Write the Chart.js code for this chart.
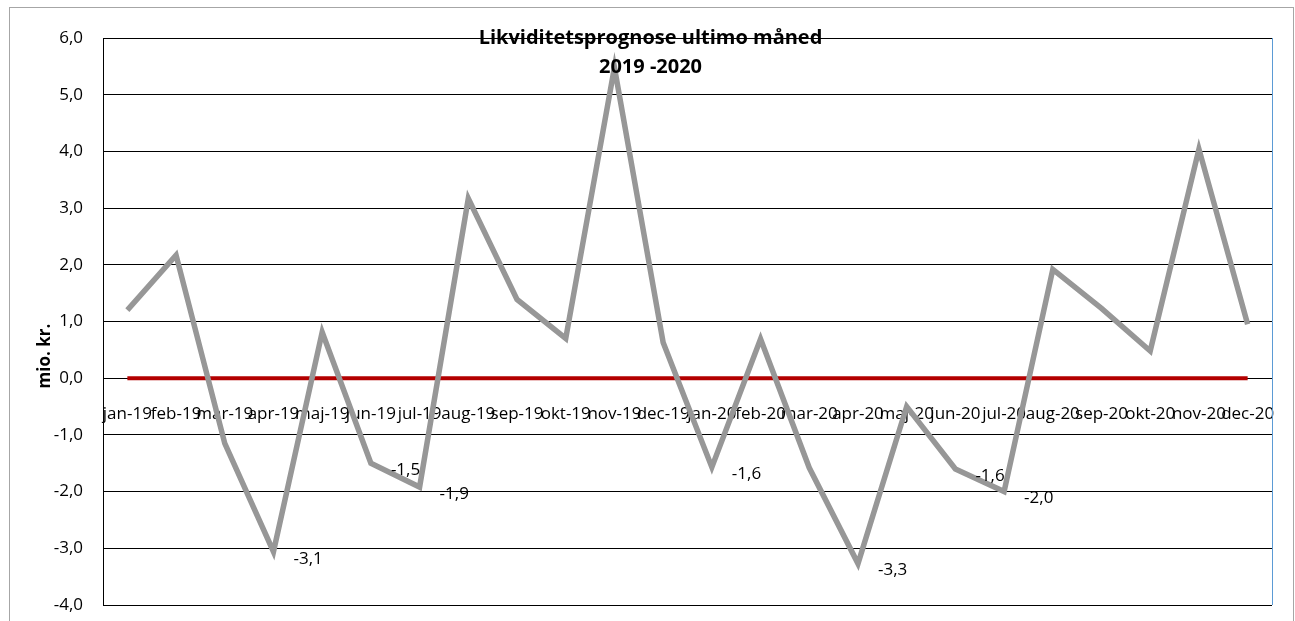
<!DOCTYPE html>
<html lang="da">
<head>
<meta charset="utf-8">
<title>Likviditetsprognose ultimo måned 2019 -2020</title>
<script src="https://cdn.jsdelivr.net/npm/chart.js@4.4.1/dist/chart.umd.min.js"></script>
<style>
  html, body { margin: 0; padding: 0; background: #fff; }
  canvas { display: block; }
</style>
</head>
<body>
<canvas id="chart" width="1295" height="621"></canvas>
<script>
// ---- data (mio. kr., ultimo måned) ----
const months = [
  'jan-19', 'feb-19', 'mar-19', 'apr-19', 'maj-19', 'jun-19',
  'jul-19', 'aug-19', 'sep-19', 'okt-19', 'nov-19', 'dec-19',
  'jan-20', 'feb-20', 'mar-20', 'apr-20', 'maj-20', 'jun-20',
  'jul-20', 'aug-20', 'sep-20', 'okt-20', 'nov-20', 'dec-20'
];
const likviditet = [
  1.20, 2.17, -1.15, -3.06, 0.81, -1.50,
  -1.92, 3.17, 1.39, 0.70, 5.48, 0.63,
  -1.57, 0.69, -1.58, -3.27, -0.50, -1.60,
  -2.00, 1.92, 1.23, 0.48, 4.04, 0.95
];
const nulLinje = [
  0, 0, 0, 0, 0, 0, 0, 0, 0, 0, 0, 0,
  0, 0, 0, 0, 0, 0, 0, 0, 0, 0, 0, 0
];
// points that carry a value label in the original
const labelled = [3, 5, 6, 12, 15, 17, 18];
const yTicks = [-4, -3, -2, -1, 0, 1, 2, 3, 4, 5, 6];

const FONT = '"Open Sans", "Liberation Sans", sans-serif';
const fmt = v => v.toFixed(1).replace('.', ',');

// keep the plot box where the layout padding puts it
const noPad = s => { s.paddingLeft = s.paddingRight = s.paddingTop = s.paddingBottom = 0; };

const decor = {
  id: 'decor',
  beforeDraw(chart) {
    const ctx = chart.ctx;
    ctx.save();
    ctx.fillStyle = '#fff';
    ctx.fillRect(0, 0, chart.width, chart.height);
    ctx.restore();
  },
  afterDraw(chart) {
    const { ctx, chartArea: a, scales: { x, y } } = chart;
    ctx.save();

    // blue right edge of plot area
    ctx.strokeStyle = '#5b9bd5';
    ctx.lineWidth = 1;
    ctx.beginPath();
    ctx.moveTo(a.right + 0.5, a.top);
    ctx.lineTo(a.right + 0.5, a.bottom);
    ctx.stroke();

    // outer chart frame
    ctx.strokeStyle = '#a6a6a6';
    ctx.strokeRect(9.5, 7.5, chart.width - 11, chart.height + 20);

    // value labels
    ctx.fillStyle = '#000';
    ctx.font = '17px ' + FONT;
    ctx.textAlign = 'left';
    ctx.textBaseline = 'middle';
    labelled.forEach(i => {
      const px = x.getPixelForValue(i);
      const py = y.getPixelForValue(likviditet[i]);
      ctx.fillText(fmt(likviditet[i]), px + 20, py + 7);
    });

    // title
    ctx.font = 'bold 20px ' + FONT;
    ctx.textAlign = 'center';
    ctx.fillText('Likviditetsprognose ultimo måned', chart.width / 2 + 3, a.top);
    ctx.fillText('2019 -2020', chart.width / 2 + 3, a.top + 29);

    // y axis title
    ctx.translate(45, 356);
    ctx.rotate(-Math.PI / 2);
    ctx.font = 'bold 17px ' + FONT;
    ctx.fillText('mio. kr.', 0, 0);
    ctx.restore();
  }
};

new Chart(document.getElementById('chart'), {
  type: 'line',
  data: {
    labels: months,
    datasets: [
      {
        label: 'Likviditet',
        data: likviditet,
        borderColor: '#979797',
        borderWidth: 5.5,
        pointRadius: 0,
        tension: 0
      },
      {
        label: 'Nul',
        data: nulLinje,
        borderColor: '#b30000',
        borderWidth: 4,
        pointRadius: 0
      }
    ]
  },
  options: {
    responsive: false,
    animation: false,
    layout: { padding: { left: 0, top: 38, right: 23, bottom: 16 } },
    plugins: {
      legend: { display: false },
      title: { display: false },
      tooltip: { enabled: false }
    },
    scales: {
      x: {
        type: 'category',
        offset: true,
        position: { y: 0 },
        afterFit: noPad,
        grid: { display: false, drawTicks: false },
        border: { display: false },
        ticks: {
          autoSkip: false,
          maxRotation: 0,
          minRotation: 0,
          padding: 26,
          color: '#000',
          font: { family: FONT, size: 17 }
        }
      },
      y: {
        min: -4,
        max: 6,
        afterBuildTicks: s => { s.ticks = yTicks.map(v => ({ value: v })); },
        afterFit: s => { noPad(s); s.width = 103; },
        grid: { color: '#000', lineWidth: 1, drawTicks: false },
        border: { display: true, color: '#000', width: 1 },
        ticks: {
          padding: 20,
          color: '#000',
          font: { family: FONT, size: 17 },
          callback: v => fmt(v)
        }
      }
    }
  },
  plugins: [decor]
});
</script>
</body>
</html>
